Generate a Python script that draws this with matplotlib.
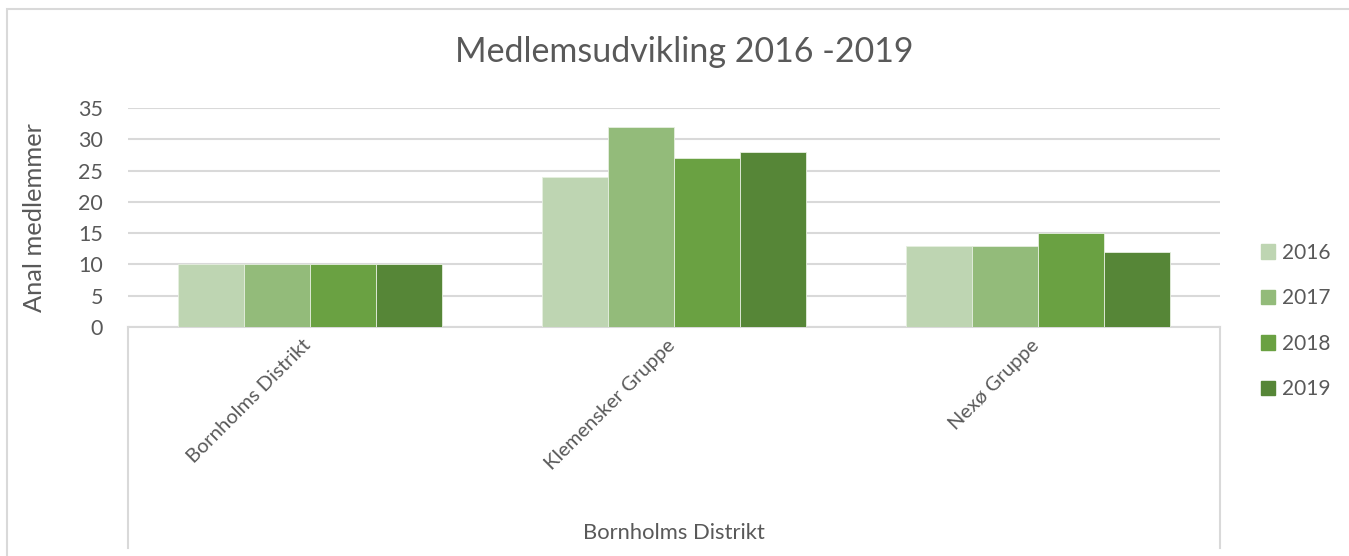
import matplotlib
matplotlib.use("Agg")
import matplotlib.pyplot as plt
import matplotlib.transforms as mtransforms
import numpy as np
from matplotlib.patches import Rectangle
from matplotlib.lines import Line2D

categories = ["Bornholms Distrikt", "Klemensker Gruppe", "Nexø Gruppe"]
years = ["2016", "2017", "2018", "2019"]
values = {
    "2016": [10, 24, 13],
    "2017": [10, 32, 13],
    "2018": [10, 27, 15],
    "2019": [10, 28, 12],
}
colors = ["#BED5B2", "#93BB7A", "#6AA142", "#568637"]
title = "Medlemsudvikling 2016 -2019"
ylabel = "Anal medlemmer"
outer_label = "Bornholms Distrikt"

plt.rcParams['font.family'] = ['Lato', 'DejaVu Sans']
txt = "#595959"
grid = "#D9D9D9"

W, H = 1349, 556
fig = plt.figure(figsize=(W/100, H/100), dpi=100)
ax = fig.add_axes([128/W, (H-327)/H, (1220-128)/W, (327-108)/H])

n = len(years)
group_w = 1.0
bar_w = group_w / (n + 1.5)
x = np.arange(len(categories))
for i, (yr, c) in enumerate(zip(years, colors)):
    offs = (i - (n - 1) / 2) * bar_w
    ax.bar(x + offs, values[yr], width=bar_w, color=c, edgecolor="#E6EFE0",
           linewidth=0.6, label=yr, zorder=3)

ax.set_xlim(-0.5, len(categories) - 0.5)
ax.set_ylim(0, 35)
ax.set_yticks(range(0, 36, 5))
ax.yaxis.grid(True, color=grid, linewidth=1.5, zorder=0)
ax.set_axisbelow(True)
for s in ["top", "right", "left"]:
    ax.spines[s].set_visible(False)
ax.spines["bottom"].set_color(grid)
ax.spines["bottom"].set_linewidth(1.5)
ax.tick_params(axis="y", length=0, labelsize=15.5, labelcolor=txt, pad=18)
ax.tick_params(axis="x", length=0, labelsize=14.5, labelcolor=txt, pad=7)
ax.set_xticks(x)
ax.set_xticklabels(categories, rotation=45, ha="right", va="top", rotation_mode="anchor")
offset = mtransforms.ScaledTranslation(-8/100, 0, fig.dpi_scale_trans)
for lab in ax.get_xticklabels():
    lab.set_transform(lab.get_transform() + offset)
ax.set_ylabel(ylabel, fontsize=18.3, color=txt)
ax.yaxis.set_label_coords(-82/(1220-128), 0.5)

# multi-level category lines
for xp in [128, 1220]:
    fig.add_artist(Line2D([xp/W, xp/W], [(H-327)/H, (H-548)/H], color=grid, linewidth=1.5))
fig.text(674/W, (H-533)/H, outer_label, ha="center", va="center", fontsize=15.8, color=txt)

fig.text(684/W, (H-52)/H, title, ha="center", va="center", fontsize=24.5, color=txt)

# chart border
fig.add_artist(Rectangle((7/W, -0.1), 2, (H-9)/H + 0.1, transform=fig.transFigure,
                         fill=False, edgecolor=grid, linewidth=1.5))

handles = [Rectangle((0, 0), 1, 1, color=c) for c in colors]
fig.legend(handles, years, loc="center left", bbox_to_anchor=(1242/W, (H-321)/H),
           frameon=False, fontsize=15, labelcolor=txt, handlelength=0.7,
           handleheight=0.7, handletextpad=0.3, labelspacing=1.22)

fig.savefig("out.png", dpi=100)
